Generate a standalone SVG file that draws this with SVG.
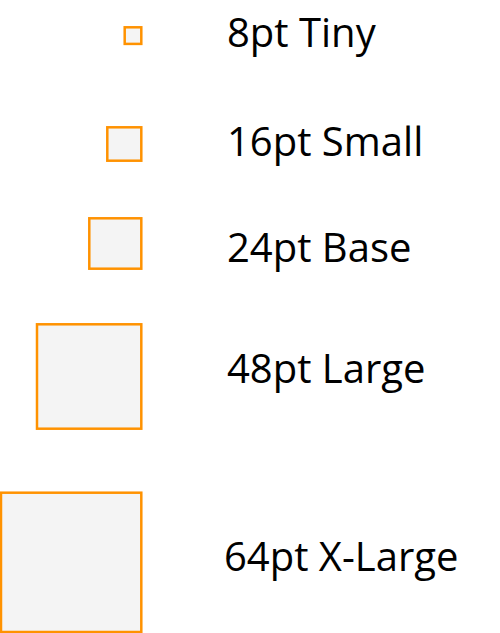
<svg xmlns="http://www.w3.org/2000/svg" width="500" height="633" viewBox="0 0 500 633">
<style>
.sq{fill:#f4f4f4;stroke:#ff9200;stroke-width:2.5}
.lb{font-family:"Open Sans","Noto Sans",sans-serif;font-size:40px;fill:#000}
</style>
<rect width="500" height="633" fill="#fff"/>
<g id="tiny"><rect class="sq" x="124.7" y="27.3" width="16.6" height="16.6"/><text class="lb" x="227" y="47">8pt Tiny</text></g>
<g id="small"><rect class="sq" x="107.3" y="127.3" width="34" height="33.4"/><text class="lb" x="227" y="156">16pt Small</text></g>
<g id="base"><rect class="sq" x="89.3" y="218.3" width="52" height="50.4"/><text class="lb" x="227" y="262">24pt Base</text></g>
<g id="large"><rect class="sq" x="37" y="324.3" width="104.3" height="104.4"/><text class="lb" x="227" y="383">48pt Large</text></g>
<g id="xlarge"><rect class="sq" x="1" y="492.7" width="140.3" height="139.3"/><text class="lb" x="224" y="571">64pt X-Large</text></g>
<g id="connectors"/>
</svg>
